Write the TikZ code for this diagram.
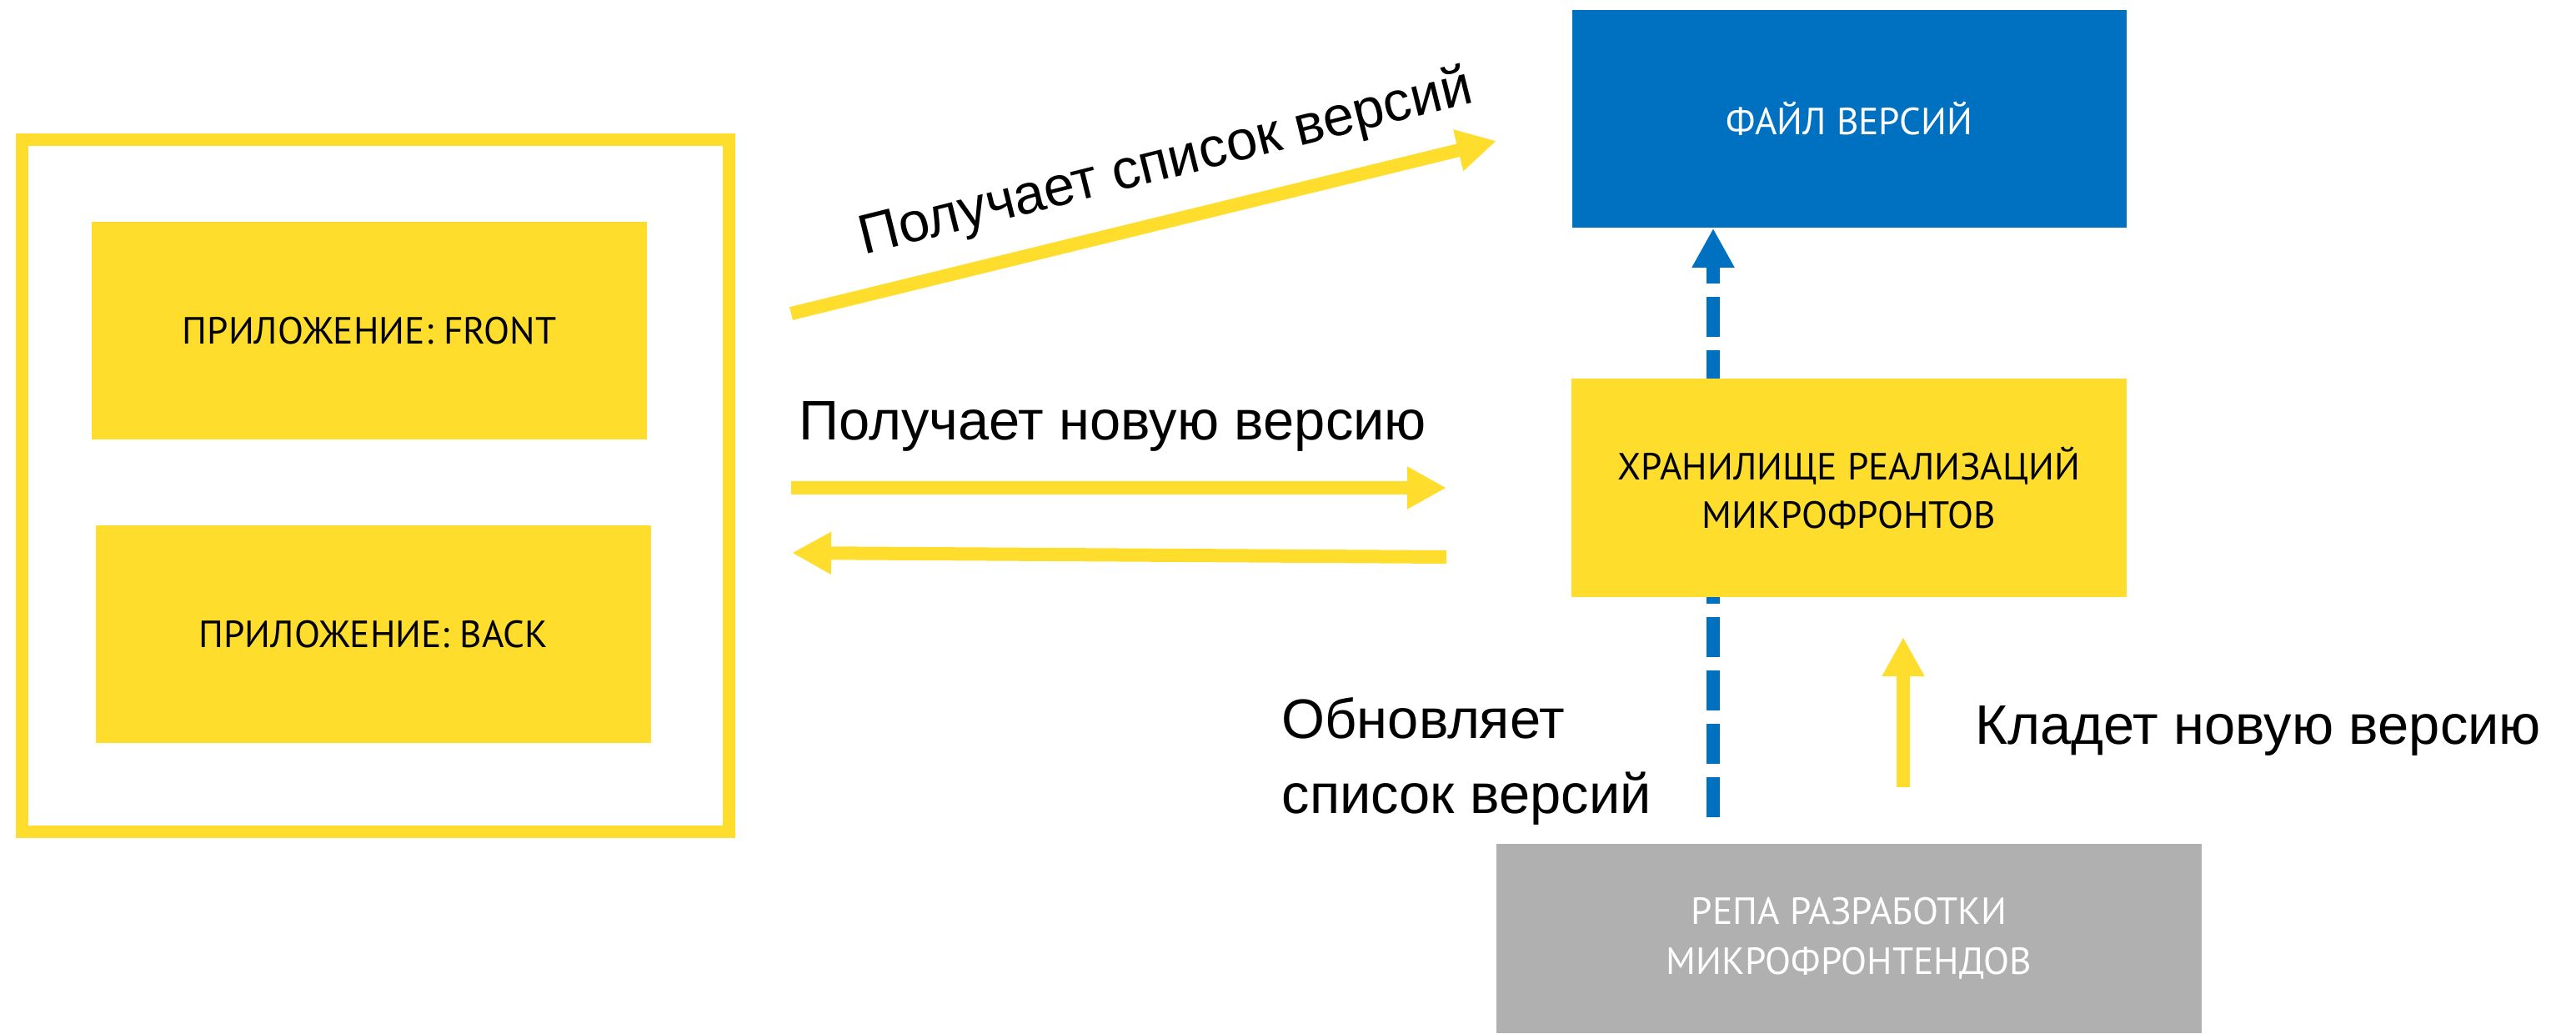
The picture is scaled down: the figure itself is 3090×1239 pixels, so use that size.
\documentclass[tikz,border=0pt]{standalone}
\usepackage{fontspec}
\setmainfont{Liberation Sans}
\newfontfamily\boxfont{PT Sans}
\usetikzlibrary{positioning,calc,arrows.meta}
\definecolor{appyellow}{HTML}{FFDD2D}
\definecolor{fileblue}{HTML}{0070C0}
\definecolor{repogrey}{HTML}{B0B0B0}

\begin{document}
\begin{tikzpicture}[x=0.01cm, y=-0.01cm,
  block/.style={inner sep=0pt, minimum width=6.66cm, minimum height=2.61cm, align=center,
    font=\boxfont\fontsize{12.9}{16.5}\selectfont},
  lbl/.style={inner sep=0pt, font=\fontsize{19}{25.6}\selectfont},
  flow/.style={appyellow, line width=4.55pt, -{Triangle[length=13.4pt, width=13.6pt]}}]
  \useasboundingbox (0,0) rectangle (3090,1239);

  % Application frame with its two parts
  \node[draw=appyellow, line width=4.27pt, inner sep=0pt, minimum width=8.47cm, minimum height=8.29cm] (app) at (450.5,582.5) {};
  \node[block, fill=appyellow] (front) at (443,396.5) {ПРИЛОЖЕНИЕ: FRONT};
  \node[block, fill=appyellow] (back) at (448,760.5) {ПРИЛОЖЕНИЕ: BACK};

  % Versions file
  \node[block, fill=fileblue, text=white, minimum width=6.65cm] (files) at (2218.5,142.5) {ФАЙЛ ВЕРСИЙ};

  % Update of the version list (under the storage box)
  \coordinate (upd) at (2055,980);
  \draw[fileblue, line width=4.3pt, dash pattern=on 13.66pt off 4.55pt,
    -{Triangle[length=13.4pt, width=13.6pt]}] (upd) -- (upd |- files.south);

  % Storage and dev repo
  \node[block, fill=appyellow, minimum height=2.62cm] (storage) at (2218,585) {ХРАНИЛИЩЕ РЕАЛИЗАЦИЙ\\МИКРОФРОНТОВ};
  \node[block, fill=repogrey, text=white, minimum width=8.45cm, minimum height=2.27cm,
    font=\boxfont\fontsize{12.9}{17}\selectfont] (repo) at (2218,1125.5) {РЕПА РАЗРАБОТКИ\\МИКРОФРОНТЕНДОВ};

  % Requests from the application
  \coordinate (listsrc) at (949,376);
  \coordinate (listdst) at (1795,169);
  \draw[flow] (listsrc) -- (listdst);
  \node[lbl, anchor=base, rotate=14] (listlbl) at (1403,214) {Получает список версий};

  \coordinate (getsrc) at (949,585);
  \coordinate (getdst) at (1735,585);
  \draw[flow] (getsrc) -- (getdst);
  \node[lbl, anchor=base west] (getlbl) at (958,527) {Получает новую версию};

  \coordinate (retsrc) at (1735,668);
  \coordinate (retdst) at (950,663);
  \draw[flow] (retsrc) -- (retdst);

  % Publishing a new version
  \coordinate (putsrc) at (2283,944);
  \coordinate (putdst) at (2283,764);
  \draw[flow] (putsrc) -- (putdst);
  \node[lbl, anchor=base west] (putlbl) at (2369,892) {Кладет новую версию};
  \node[lbl, anchor=north west, align=left] (updlbl) at (1537,836) {Обновляет\\список версий};
\end{tikzpicture}
\end{document}
